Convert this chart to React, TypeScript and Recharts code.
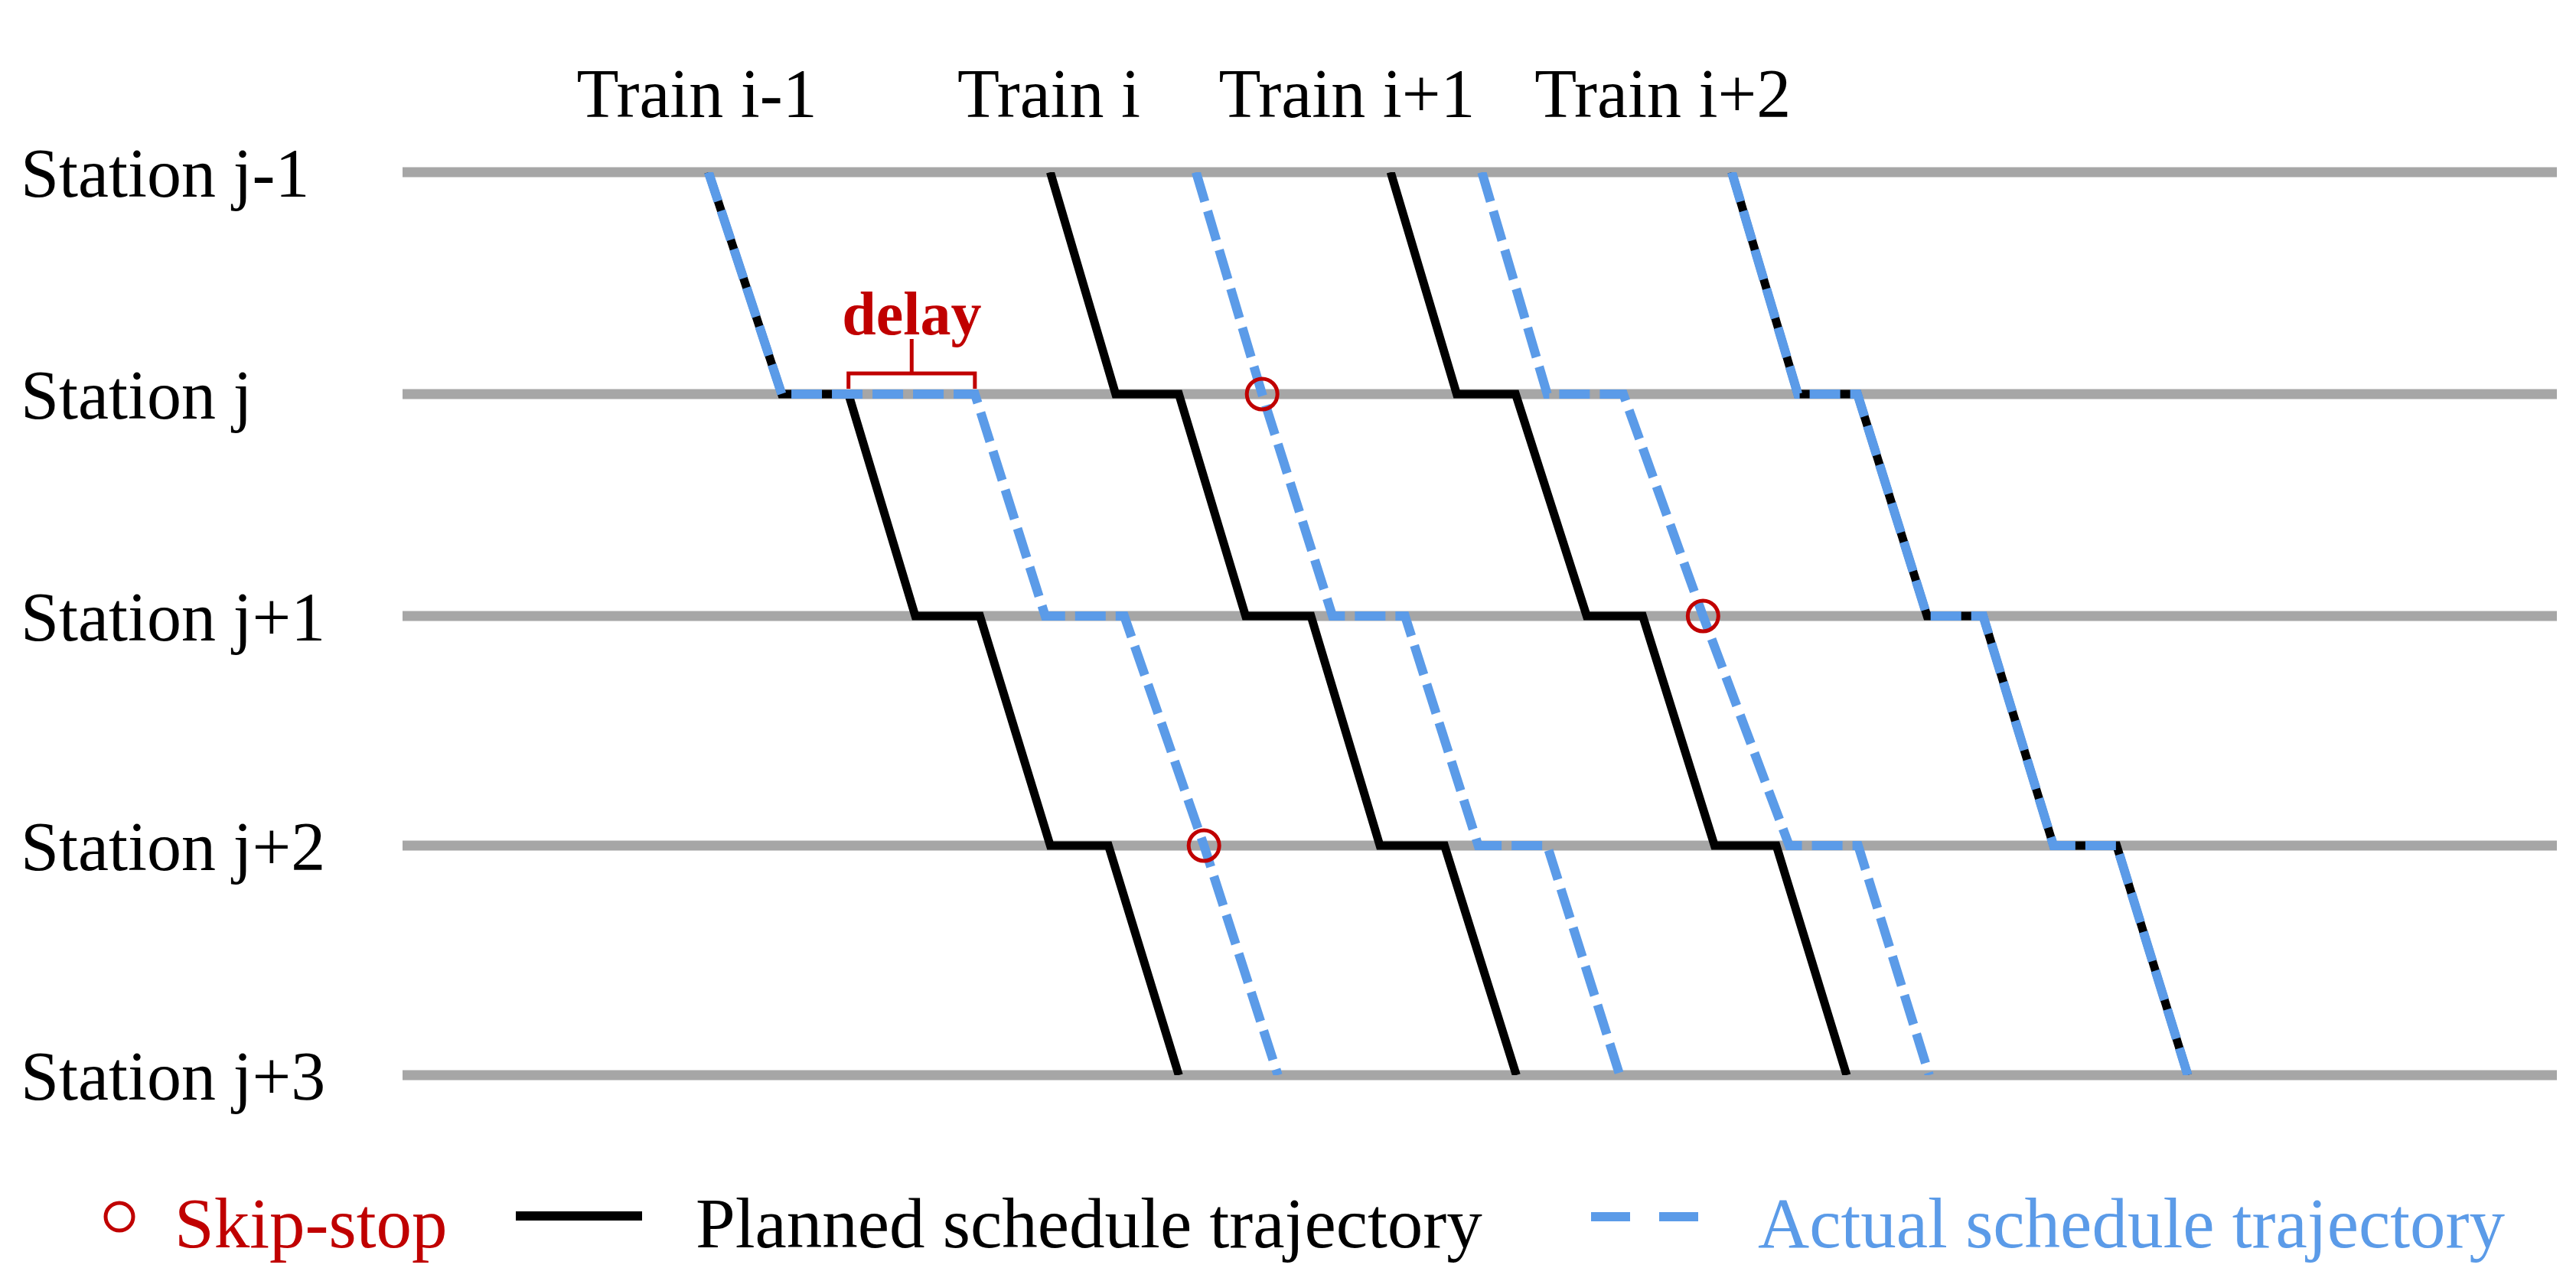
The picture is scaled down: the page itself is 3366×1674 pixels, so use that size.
import { ComposedChart, Line, Scatter, XAxis, YAxis, ReferenceLine, ReferenceDot } from "recharts";

const STATIONS = ["Station j-1", "Station j", "Station j+1", "Station j+2", "Station j+3"];
const STATION_KM = [0, 2.9, 5.8, 8.8, 11.8];

const TRAINS = ["Train i-1", "Train i", "Train i+1", "Train i+2"];
const TRAIN_LABEL_T = [41, 90, 131.5, 175.5];

// [arrival, departure] at each station (min); arrival === departure means no dwell
const PLANNED_I_MINUS_1 = [[42.6, 42.6], [52.8, 62.1], [71.4, 80.4], [90.2, 98.3], [108.1, 108.1]];
const PLANNED_I = [[90.2, 90.2], [99.3, 108.1], [117.4, 126.5], [136.1, 145.1], [155.1, 155.1]];
const PLANNED_I_PLUS_1 = [[137.6, 137.6], [146.8, 155.0], [164.9, 172.7], [182.7, 191.3], [201.1, 201.1]];
const PLANNED_I_PLUS_2 = [[185.1, 185.1], [194.3, 202.6], [212.3, 220.1], [229.9, 238.7], [248.6, 248.6]];

const ACTUAL_I_MINUS_1 = [[42.6, 42.6], [52.8, 79.7], [89.5, 100.5], [111.6, 111.6], [121.9, 121.9]];
const ACTUAL_I = [[110.5, 110.5], [119.7, 119.7], [129.5, 139.6], [149.8, 159.4], [169.5, 169.5]];
const ACTUAL_I_PLUS_1 = [[150.3, 150.3], [159.4, 170.0], [181.1, 181.1], [193.1, 202.7], [212.6, 212.6]];
const ACTUAL_I_PLUS_2 = [[185.1, 185.1], [194.3, 202.6], [212.3, 220.1], [229.9, 238.7], [248.6, 248.6]];

const PLANNED = [PLANNED_I_MINUS_1, PLANNED_I, PLANNED_I_PLUS_1, PLANNED_I_PLUS_2];
const ACTUAL = [ACTUAL_I_MINUS_1, ACTUAL_I, ACTUAL_I_PLUS_1, ACTUAL_I_PLUS_2];

const RED = "#C00000";
const BLUE = "#5B9BE8";
const GRAY = "#A6A6A6";
const FONT = '"Liberation Serif", "Times New Roman", serif';

function toPoints(schedule: number[][]) {
  return schedule.flatMap(([arr, dep], k) =>
    arr === dep
      ? [{ t: arr, km: STATION_KM[k] }]
      : [{ t: arr, km: STATION_KM[k] }, { t: dep, km: STATION_KM[k] }]
  );
}

// skip-stops: intermediate stations passed without dwelling in the actual run
const skipStops = ACTUAL.flatMap((sched, n) =>
  sched
    .map(([arr, dep], k) => ({ t: arr, km: STATION_KM[k], skip: arr === dep && k > 0 && k < sched.length - 1 && PLANNED[n][k][0] !== PLANNED[n][k][1] }))
    .filter((p) => p.skip)
);

// delay of train i-1 at station j
const delayStart = PLANNED_I_MINUS_1[1][1];
const delayEnd = ACTUAL_I_MINUS_1[1][1];
const delayMid = (delayStart + delayEnd) / 2;
const bracket = [
  { t: delayStart, km: 2.83 },
  { t: delayStart, km: 2.63 },
  { t: delayEnd, km: 2.63 },
  { t: delayEnd, km: 2.83 },
];
const bracketStem = [
  { t: delayMid, km: 2.63 },
  { t: delayMid, km: 2.18 },
];

function StationTick({ y, payload }: any) {
  const idx = STATION_KM.indexOf(payload.value);
  return (
    <text x={19} y={y + 32} fontSize={90} fontFamily={FONT} fill="#000">
      {STATIONS[idx]}
    </text>
  );
}

function TrainTick({ x, payload }: any) {
  const idx = TRAIN_LABEL_T.indexOf(payload.value);
  return (
    <text x={x} y={145} textAnchor="middle" fontSize={90} fontFamily={FONT} fill="#000">
      {TRAINS[idx]}
    </text>
  );
}

function LegendRow() {
  return (
    <svg width={3350} height={130} style={{ position: "absolute", left: 0, top: 1522 }}>
      <circle cx={148} cy={60} r={18} fill="none" stroke={RED} strokeWidth={5} />
      <text x={220} y={100} fontSize={93} fontFamily={FONT} fill={RED}>Skip-stop</text>
      <line x1={666} x2={831} y1={59} y2={59} stroke="#000" strokeWidth={12} />
      <text x={901} y={100} fontSize={93} fontFamily={FONT} fill="#000">Planned schedule trajectory</text>
      <line x1={2071} x2={2211} y1={60} y2={60} stroke={BLUE} strokeWidth={12} strokeDasharray="51 38" />
      <text x={2289} y={100} fontSize={93} fontFamily={FONT} fill={BLUE}>Actual schedule trajectory</text>
    </svg>
  );
}

export default function App() {
  return (
    <div style={{ position: "relative", width: 3350, height: 1658 }}>
      <ComposedChart width={3350} height={1658} margin={{ top: 17, right: 17, left: 18, bottom: 261 }}>
        <XAxis
          type="number"
          dataKey="t"
          orientation="top"
          domain={[0, 300]}
          allowDataOverflow
          height={200}
          ticks={TRAIN_LABEL_T}
          axisLine={false}
          tickLine={false}
          tick={<TrainTick />}
        />
        <YAxis
          type="number"
          dataKey="km"
          domain={[0, 11.8]}
          reversed
          allowDataOverflow
          width={500}
          ticks={STATION_KM}
          axisLine={false}
          tickLine={false}
          tick={<StationTick />}
        />
        {STATION_KM.map((km) => (
          <ReferenceLine key={km} y={km} stroke={GRAY} strokeWidth={13} />
        ))}
        {PLANNED.map((sched, n) => (
          <Line
            key={`p${n}`}
            data={toPoints(sched)}
            dataKey="km"
            type="linear"
            stroke="#000"
            strokeWidth={11}
            dot={false}
            activeDot={false}
            isAnimationActive={false}
          />
        ))}
        {ACTUAL.map((sched, n) => (
          <Line
            key={`a${n}`}
            data={toPoints(sched)}
            dataKey="km"
            type="linear"
            stroke={BLUE}
            strokeWidth={12}
            strokeDasharray="40 13"
            dot={false}
            activeDot={false}
            isAnimationActive={false}
          />
        ))}
        <Line data={bracket} dataKey="km" type="linear" stroke={RED} strokeWidth={5} dot={false} activeDot={false} isAnimationActive={false} />
        <Line data={bracketStem} dataKey="km" type="linear" stroke={RED} strokeWidth={5} dot={false} activeDot={false} isAnimationActive={false} />
        <ReferenceDot
          x={delayMid}
          y={1.84}
          r={0}
          fill="none"
          stroke="none"
          label={{ value: "delay", position: "center", fill: RED, fontSize: 80, fontWeight: "bold", fontFamily: FONT }}
        />
        <Scatter
          data={skipStops}
          dataKey="km"
          isAnimationActive={false}
          shape={(props: any) => (
            <circle cx={props.cx} cy={props.cy} r={20} fill="none" stroke={RED} strokeWidth={5} />
          )}
        />
      </ComposedChart>
      <LegendRow />
    </div>
  );
}
